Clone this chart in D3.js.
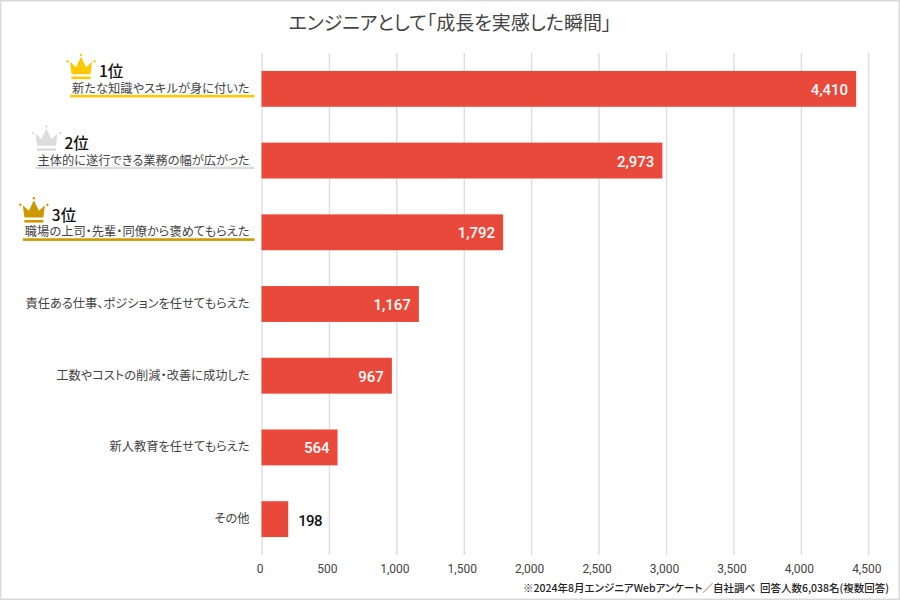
<!DOCTYPE html>
<html><head><meta charset="utf-8">
<style>html,body{margin:0;padding:0;background:#fff}svg{display:block}text{font-family:"Noto Sans CJK JP","Noto Sans",sans-serif;font-feature-settings:"palt";white-space:pre}</style>
<script src="https://cdn.jsdelivr.net/npm/d3@7/dist/d3.min.js"></script>
</head><body><svg id="c" width="900" height="600"></svg>
<script>
const categories=["新たな知識やスキルが身に付いた","主体的に遂行できる業務の幅が広がった","職場の上司・先輩・同僚から褒めてもらえた","責任ある仕事、ポジションを任せてもらえた","工数やコストの削減・改善に成功した","新人教育を任せてもらえた","その他"];
const values=[4410,2973,1792,1167,967,564,198];
const ticks=[0,500,1000,1500,2000,2500,3000,3500,4000,4500];
const ranks=["1位","2位","3位"];
const rankColors=["#ffc800","#dcdcdc","#cc9900"];
const titleText="エンジニアとして「成長を実感した瞬間」";
const noteText="※2024年8月エンジニアWebアンケート／自社調べ  回答人数6,038名(複数回答)";

const svg=d3.select("#c");
svg.append("rect").attr("x",0.5).attr("y",0.5).attr("width",899).attr("height",599).attr("fill","#fff").attr("stroke","#d9d9d9").attr("stroke-width",2);
const x=d3.scaleLinear().domain([0,4500]).range([261.5,868.3]);
const y=d3.scaleBand().domain(categories).range([53,555]).paddingInner(0.5).paddingOuter(0.25);

svg.append("text").attr("x",450).attr("y",30).attr("text-anchor","middle").attr("font-size",19).attr("fill","#444").text(titleText);

const axis=d3.axisBottom(x).tickValues(ticks).tickFormat(d3.format(",")).tickSize(-502).tickPadding(9);
const ag=svg.append("g").attr("transform","translate(0,555)").call(axis);
ag.select(".domain").remove();
ag.selectAll("line").attr("stroke","#dedede").attr("stroke-width",1.4);
ag.selectAll("text").attr("font-size",12).attr("fill","#444").attr("dx",-2).style("font-family","Roboto,'Noto Sans CJK JP',sans-serif");

svg.selectAll("rect.bar").data(values).join("rect").attr("class","bar")
 .attr("x",x(0)).attr("y",(d,i)=>y(categories[i])).attr("width",d=>x(d)-x(0)).attr("height",y.bandwidth()).attr("fill","#e9493a");

svg.selectAll("text.val").data(values).join("text").attr("class","val")
 .attr("x",d=>d<300?x(d)+10:x(d)-8).attr("y",(d,i)=>y(categories[i])+y.bandwidth()/2+(d<300?7:6))
 .attr("text-anchor",d=>d<300?"start":"end").attr("font-size",15).attr("font-weight",500).attr("letter-spacing",d=>d<300?-0.6:0)
 .attr("fill",d=>d<300?"#111":"#fff").style("font-family","Roboto,'Noto Sans CJK JP',sans-serif").text(d3.format(","));

const labelRight=249.5;
categories.forEach((c,i)=>{
 const cy=y(c)+y.bandwidth()/2;
 const top=i<3;
 const t=svg.append("text").attr("x",labelRight).attr("y",cy+4).attr("text-anchor","end").attr("font-size",12.25).attr("fill","#444").text(c);
 if(top){
  const w=t.node().getComputedTextLength();
  const left=labelRight-w;
  svg.append("rect").attr("x",left-2).attr("y",cy+6).attr("width",w+7).attr("height",2.6).attr("fill",rankColors[i]);
  svg.append("text").attr("x",left+27).attr("y",cy-11.5).attr("font-size",15.5).attr("font-weight",500).attr("fill","#111").text(ranks[i]);
  const g=svg.append("g").attr("transform",`translate(${left-5.5},${cy-35})`).attr("fill",rankColors[i]);
  g.append("path").attr("d","M3.5 8L9.5 13.5L14.5 3L19.5 13.5L25.5 8L24 20.3H5Z");
  g.append("rect").attr("x",5).attr("y",22.7).attr("width",19).attr("height",2.6);
  [[1,7.5],[14.5,1],[28,7.5]].forEach(p=>g.append("circle").attr("cx",p[0]).attr("cy",p[1]).attr("r",1.2));
 }
});

svg.append("text").attr("x",889).attr("y",592).attr("text-anchor","end").attr("font-size",10.5).attr("font-weight",500).attr("fill","#222").text(noteText);
</script></body></html>
